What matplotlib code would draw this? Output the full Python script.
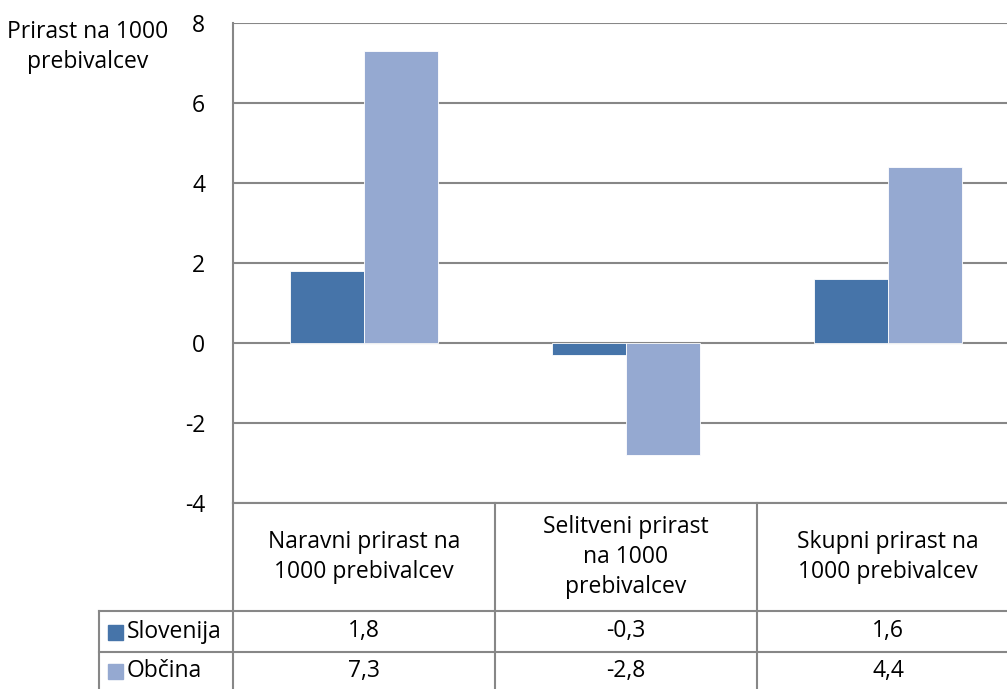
import matplotlib
matplotlib.use("Agg")
import matplotlib.pyplot as plt
import matplotlib.transforms as mtransforms
from matplotlib.lines import Line2D
from matplotlib.patches import Rectangle
import numpy as np

# data
categories = ["Naravni prirast na\n1000 prebivalcev",
              "Selitveni prirast\nna 1000\nprebivalcev",
              "Skupni prirast na\n1000 prebivalcev"]
series_names = ["Slovenija", "Občina"]
slovenija = [1.8, -0.3, 1.6]
obcina = [7.3, -2.8, 4.4]
cell_labels = [["1,8", "-0,3", "1,6"], ["7,3", "-2,8", "4,4"]]
y_ticks = [-4, -2, 0, 2, 4, 6, 8]

colors = ["#4674A9", "#95A9D1"]
grid_col = "#878787"
plt.rcParams['font.family'] = ['Open Sans', 'DejaVu Sans']
fs = 16.5

W, H = 1007, 689
fig = plt.figure(figsize=(W / 100, H / 100), dpi=100)

def fx(px):
    return px / W

def fy(py):
    return 1 - py / H

# plot area (extends a bit past the right edge, like the source)
ax = fig.add_axes([fx(233), fy(503), fx(786), (503 - 23) / H])
x = np.arange(len(categories))
bw = 0.284
ax.bar(x - bw / 2, slovenija, bw, color=colors[0], edgecolor="white", linewidth=0.6, zorder=3)
ax.bar(x + bw / 2, obcina, bw, color=colors[1], edgecolor="white", linewidth=0.6, zorder=3)
ax.set_xlim(-0.5, 2.5)
ax.set_ylim(-4, 8)
ax.set_yticks(y_ticks)
ax.set_yticklabels([str(t) for t in y_ticks], fontsize=fs)
ax.tick_params(axis="y", length=0, pad=20)
ax.set_xticks([])
ax.yaxis.grid(True, color=grid_col, linewidth=1.5, zorder=0)
for s in ["top", "right", "bottom"]:
    ax.spines[s].set_visible(False)
ax.spines["left"].set_color(grid_col)
ax.spines["left"].set_linewidth(1.5)

fig.text(fx(88), fy(47), "Prirast na 1000\nprebivalcev", ha="center", va="center",
         fontsize=fs, linespacing=1.3)

# data table under the plot
tr = mtransforms.blended_transform_factory(ax.transData, fig.transFigure)
t_top, r1, r2, t_bot = fy(503), fy(611), fy(652), fy(692)
lk = dict(color=grid_col, linewidth=1.5, clip_on=False)
fig.add_artist(Line2D([-0.5, 2.5], [t_top, t_top], transform=tr, **lk))
for b in [-0.5, 0.5, 1.5, 2.5]:
    fig.add_artist(Line2D([b, b], [t_bot, t_top], transform=tr, **lk))
for yy in [r1, r2, t_bot]:
    fig.add_artist(Line2D([fx(99), 1.0], [yy, yy], transform=fig.transFigure, **lk))
fig.add_artist(Line2D([fx(99), fx(99)], [t_bot, r1], transform=fig.transFigure, **lk))

for i, c in enumerate(categories):
    fig.text(x[i], (t_top + r1) / 2, c, transform=tr, ha="center", va="center",
             fontsize=fs, linespacing=1.35)
row_y = [(r1 + r2) / 2, fy(671)]
for j in range(len(series_names)):
    for i in range(len(categories)):
        fig.text(x[i], row_y[j], cell_labels[j][i], transform=tr, ha="center",
                 va="center", fontsize=fs)
    fig.add_artist(Rectangle((fx(108), row_y[j] - 8 / H), 15 / W, 15 / H,
                             transform=fig.transFigure, color=colors[j]))
    fig.text(fx(127), row_y[j], series_names[j], ha="left", va="center", fontsize=fs)

fig.savefig("out.png", dpi=100)
